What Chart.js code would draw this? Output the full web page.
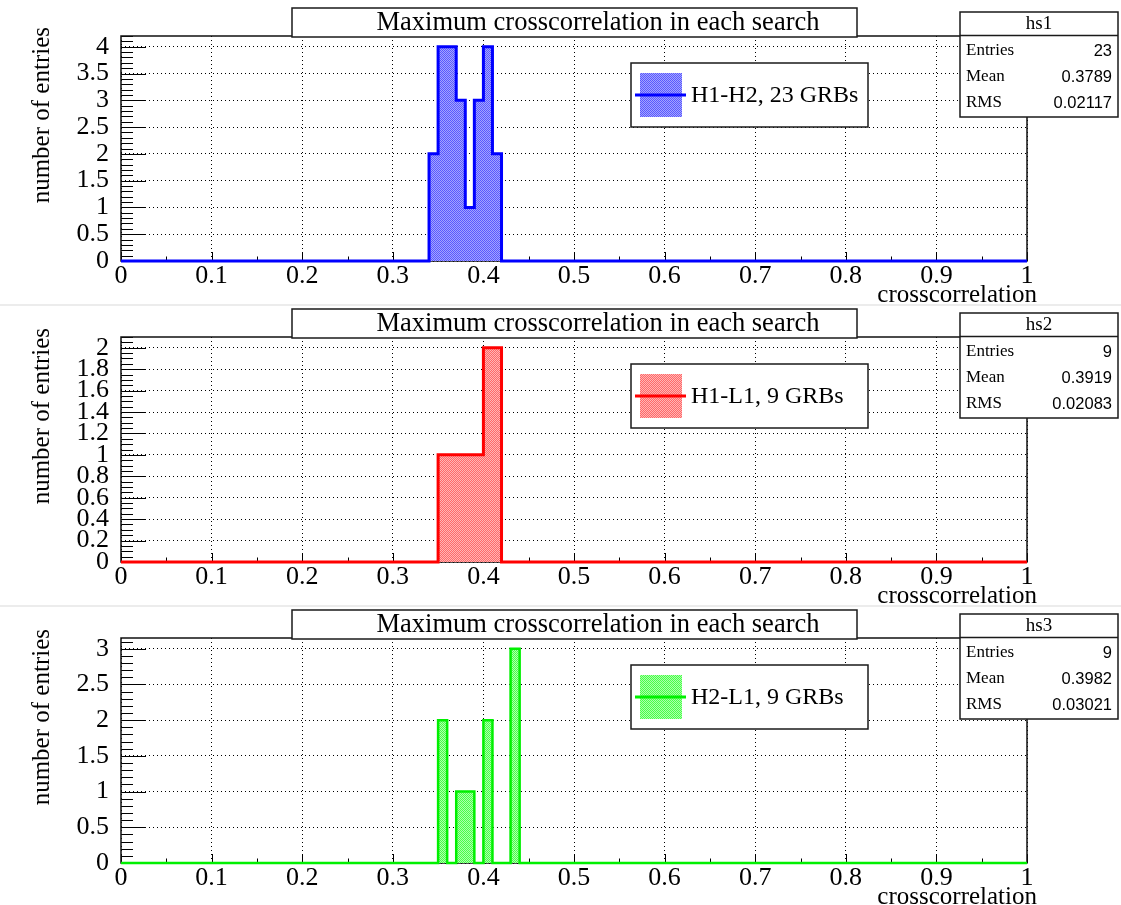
<!DOCTYPE html>
<html>
<head>
<meta charset="utf-8">
<title>Maximum crosscorrelation in each search</title>
<script src="https://cdn.jsdelivr.net/npm/chart.js@4.4.1/dist/chart.umd.min.js"></script>
<style>
  html, body { margin: 0; padding: 0; background: #ffffff; }
  #stack { position: relative; width: 1121px; height: 905px; }
  #stack canvas { position: absolute; left: 0; display: block; }
</style>
</head>
<body>
<div id="stack">
  <canvas id="pad1" width="1121" height="306" style="top:0px"></canvas>
  <canvas id="pad2" width="1121" height="306" style="top:301px"></canvas>
  <canvas id="pad3" width="1121" height="303" style="top:602px"></canvas>
</div>
<script>
// Histograms: 100 bins on [0, 1]; only the non-empty bins are listed.
const binWidth = 0.01;

const hs1BinLow = [0.34, 0.35, 0.36, 0.37, 0.38, 0.39, 0.40, 0.41];
const hs1Counts = [2, 4, 4, 3, 1, 3, 4, 2];

const hs2BinLow = [0.35, 0.36, 0.37, 0.38, 0.39, 0.40, 0.41];
const hs2Counts = [1, 1, 1, 1, 1, 2, 2];

const hs3BinLow = [0.35, 0.37, 0.38, 0.40, 0.43];
const hs3Counts = [2, 1, 1, 2, 3];

// Axis tick labels
const xTicks = [0, 0.1, 0.2, 0.3, 0.4, 0.5, 0.6, 0.7, 0.8, 0.9, 1];
const hs1YTicks = [0, 0.5, 1, 1.5, 2, 2.5, 3, 3.5, 4];
const hs2YTicks = [0, 0.2, 0.4, 0.6, 0.8, 1, 1.2, 1.4, 1.6, 1.8, 2];
const hs3YTicks = [0, 0.5, 1, 1.5, 2, 2.5, 3];

// Texts of the boxes
const histNames = ['hs1', 'hs2', 'hs3'];
const legendLabels = ['H1-H2, 23 GRBs', 'H1-L1, 9 GRBs', 'H2-L1, 9 GRBs'];
const statEntries = ['23', '9', '9'];
const statMeans = ['0.3789', '0.3919', '0.3982'];
const statRms = ['0.02117', '0.02083', '0.03021'];
const plotTitle = 'Maximum crosscorrelation in each search';
const xTitle = 'crosscorrelation';
const yTitle = 'number of entries';

const SERIF = '"Liberation Serif", "DejaVu Serif", serif';
const SANS = '"Liberation Sans", "DejaVu Sans", sans-serif';

// Expand the listed bins into a full step outline (one point per bin edge).
function histPoints(binLow, counts) {
  const n = Math.round(1 / binWidth);
  const content = new Array(n).fill(0);
  binLow.forEach((lo, k) => { content[Math.round(lo / binWidth)] = counts[k]; });
  const pts = content.map((c, i) => ({ x: i * binWidth, y: c }));
  pts.push({ x: 1, y: 0 });
  return pts;
}

// Fine checkered fill, like a dotted hatch.
function dotPattern(ctx, dark, light) {
  const c = document.createElement('canvas');
  c.width = 2; c.height = 2;
  const g = c.getContext('2d');
  g.fillStyle = light; g.fillRect(0, 0, 2, 2);
  g.fillStyle = dark; g.fillRect(0, 0, 1, 1); g.fillRect(1, 1, 1, 1);
  return ctx.createPattern(c, 'repeat');
}

function box(ctx, x, y, w, h) {
  ctx.fillStyle = '#ffffff';
  ctx.fillRect(x, y, w, h);
  ctx.strokeStyle = '#1a1a1a';
  ctx.lineWidth = 1.5;
  ctx.strokeRect(x, y, w, h);
}

// Frame, inward tick marks, title / stats / legend boxes and axis titles.
const padDecor = {
  id: 'padDecor',
  beforeDatasetsDraw(chart, _args, o) {
    const { ctx, chartArea: a, scales: { x, y } } = chart;
    ctx.save();
    ctx.strokeStyle = '#000000';
    ctx.lineWidth = 1;
    ctx.beginPath();
    const ny = Math.floor(y.max / o.yMinor + 1e-6);
    for (let k = 0; k <= ny; k++) {
      const v = k * o.yMinor;
      const r = v / o.yMajor;
      const major = Math.abs(r - Math.round(r)) < 1e-6;
      const py = Math.round(y.getPixelForValue(v)) + 0.5;
      ctx.moveTo(a.left, py);
      ctx.lineTo(a.left + (major ? 25 : 12), py);
    }
    const nx = Math.round(1 / o.xMinor);
    for (let k = 0; k <= nx; k++) {
      const v = k * o.xMinor;
      const major = k % 2 === 0;
      const px = Math.round(x.getPixelForValue(v)) + 0.5;
      ctx.moveTo(px, a.bottom);
      ctx.lineTo(px, a.bottom - (major ? 9 : 4.5));
    }
    ctx.stroke();
    ctx.strokeStyle = '#111111';
    ctx.lineWidth = 1.5;
    ctx.strokeRect(a.left, a.top, a.right - a.left, a.bottom - a.top);
    ctx.restore();
  },
  afterDraw(chart, _args, o) {
    const { ctx } = chart;
    const ds = chart.data.datasets[0];
    ctx.save();

    if (o.separator) {
      ctx.fillStyle = '#ececec';
      ctx.fillRect(0, 3, chart.width, 2);
    }

    // title box
    box(ctx, 292, 8, 565, 29);
    ctx.fillStyle = '#000000';
    ctx.font = '26.5px ' + SERIF;
    ctx.textAlign = 'center';
    ctx.textBaseline = 'middle';
    ctx.fillText(plotTitle, 598, 23);

    // statistics box
    box(ctx, 960, 12, 158, 105);
    ctx.beginPath();
    ctx.moveTo(960, 35.5); ctx.lineTo(1118, 35.5);
    ctx.stroke();
    ctx.fillStyle = '#000000';
    ctx.font = '19px ' + SERIF;
    ctx.textAlign = 'center';
    ctx.fillText(o.name, 1039, 24);
    const rows = [['Entries', o.entries], ['Mean', o.mean], ['RMS', o.rms]];
    rows.forEach((r, i) => {
      const ty = 51 + i * 26;
      ctx.font = '17px ' + SERIF;
      ctx.textAlign = 'left';
      ctx.fillText(r[0], 966, ty);
      ctx.font = '16.5px ' + SANS;
      ctx.textAlign = 'right';
      ctx.fillText(r[1], 1112, ty);
    });

    // legend box
    box(ctx, 631, 63, 237, 64);
    ctx.fillStyle = ds.backgroundColor;
    ctx.fillRect(640, 73, 42, 44);
    ctx.strokeStyle = ds.borderColor;
    ctx.lineWidth = 3;
    ctx.beginPath();
    ctx.moveTo(635, 95); ctx.lineTo(686, 95);
    ctx.stroke();
    ctx.fillStyle = '#000000';
    ctx.font = '24px ' + SERIF;
    ctx.textAlign = 'left';
    ctx.textBaseline = 'middle';
    ctx.fillText(ds.label, 691, 96);

    // axis titles
    ctx.font = '25px ' + SERIF;
    ctx.textAlign = 'right';
    ctx.fillText(xTitle, 1037, 295);
    ctx.translate(42, 27);
    ctx.rotate(-Math.PI / 2);
    ctx.fillText(yTitle, 0, 0);
    ctx.restore();
  }
};

function makePad(id, idx, binLow, counts, yTicks, yMajor, yMinor, color, dark, light, lineWidth) {
  const canvas = document.getElementById(id);
  const ctx = canvas.getContext('2d');
  const yMax = 1.05 * Math.max(...counts);
  const tickFont = { family: SERIF, size: 26 };
  // frame bottom sits 261 px below the pad top whatever the canvas height
  const padBottom = canvas.height - 261 - 40;
  return new Chart(ctx, {
    type: 'line',
    data: {
      datasets: [{
        label: legendLabels[idx],
        data: histPoints(binLow, counts),
        stepped: 'before',
        borderColor: color,
        borderWidth: lineWidth,
        borderJoinStyle: 'miter',
        borderCapStyle: 'butt',
        backgroundColor: dotPattern(ctx, dark, light),
        fill: 'origin',
        pointRadius: 0,
        clip: 6
      }]
    },
    options: {
      responsive: false,
      animation: false,
      devicePixelRatio: 1,
      events: [],
      layout: { padding: { left: 0, right: 94, top: 36, bottom: padBottom } },
      plugins: {
        legend: { display: false },
        title: { display: false },
        tooltip: { enabled: false },
        padDecor: {
          name: histNames[idx],
          entries: statEntries[idx],
          mean: statMeans[idx],
          rms: statRms[idx],
          yMajor: yMajor,
          yMinor: yMinor,
          xMinor: 0.05,
          separator: idx > 0
        }
      },
      scales: {
        x: {
          type: 'linear',
          min: 0,
          max: 1,
          afterFit: s => { s.height = 40; },
          afterBuildTicks: s => { s.ticks = xTicks.map(v => ({ value: v })); },
          grid: { color: '#000000', lineWidth: 1, drawTicks: false },
          border: { display: false, dash: [1, 3] },
          ticks: {
            font: tickFont, color: '#000000', padding: 0,
            maxRotation: 0, autoSkip: false,
            callback: v => String(v)
          }
        },
        y: {
          type: 'linear',
          min: 0,
          max: yMax,
          afterFit: s => { s.width = 121; },
          afterBuildTicks: s => { s.ticks = yTicks.map(v => ({ value: v })); },
          grid: { color: '#000000', lineWidth: 1, drawTicks: false },
          border: { display: false, dash: [1, 3] },
          ticks: {
            font: tickFont, color: '#000000', padding: 12,
            autoSkip: false,
            callback: v => String(v)
          }
        }
      }
    },
    plugins: [padDecor]
  });
}

makePad('pad1', 0, hs1BinLow, hs1Counts, hs1YTicks, 0.5, 0.1, '#0000ff', '#5a5aff', '#a4a4ff', 3);
makePad('pad2', 1, hs2BinLow, hs2Counts, hs2YTicks, 0.2, 0.05, '#ff0000', '#ff6868', '#ffb4b4', 3);
makePad('pad3', 2, hs3BinLow, hs3Counts, hs3YTicks, 0.5, 0.1, '#00f000', '#48ff48', '#acffac', 2.5);
</script>
</body>
</html>
